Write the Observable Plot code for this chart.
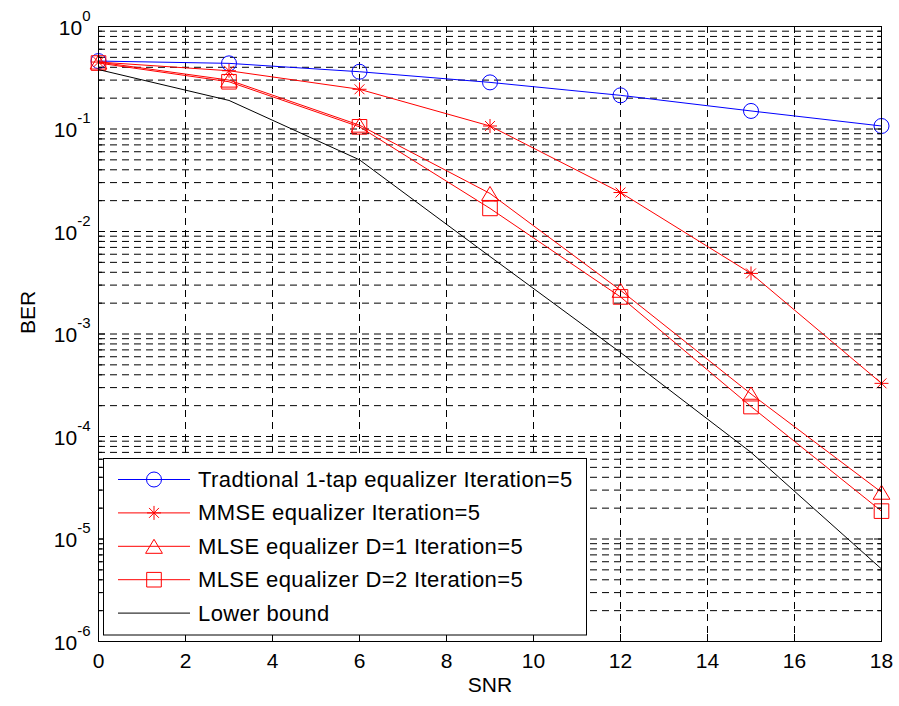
<!DOCTYPE html>
<html><head><meta charset="utf-8">
<script src="https://cdn.jsdelivr.net/npm/d3@7"></script>
<script src="https://cdn.jsdelivr.net/npm/@observablehq/plot@0.6"></script>
<style>
body{margin:0;background:#fff;}
#chart{position:relative;width:899px;height:706px;}
</style></head><body><div id="chart"></div>
<script>
// ---- data ----
const snr = [0, 3, 6, 9, 12, 15, 18];
const tradBER  = [0.46, 0.437, 0.362, 0.285, 0.213, 0.150, 0.107];
const mmseBER  = [0.45, 0.37, 0.244, 0.107, 0.024, 0.0039, 3.3e-4];
const mlse1BER = [0.45, 0.30, 0.109, 0.0235, 0.00267, 2.6e-4, 2.86e-5];
const mlse2BER = [0.44, 0.289, 0.105, 0.0168, 0.0023, 1.96e-4, 1.87e-5];
const lowerBER = [0.38, 0.19, 0.050, 0.0057, 6.6e-4, 7.0e-5, 5.1e-6];
const seriesNames = [
  "Tradtional 1-tap equalizer Iteration=5",
  "MMSE equalizer Iteration=5",
  "MLSE equalizer D=1 Iteration=5",
  "MLSE equalizer D=2 Iteration=5",
  "Lower bound"
];
const xTicks = [0, 2, 4, 6, 8, 10, 12, 14, 16, 18];
const yDecades = [1e-6, 1e-5, 1e-4, 1e-3, 1e-2, 1e-1, 1];
const minorMultipliers = [2, 3, 4, 5, 6, 7, 8, 9];
const xLabel = "SNR";
const yLabel = "BER";

// ---- custom MATLAB-like symbols ----
const sym = {
  circle: {draw(ctx, size){const r=Math.sqrt(size/Math.PI); ctx.moveTo(r,0); ctx.arc(0,0,r,0,2*Math.PI);}},
  asterisk: {draw(ctx, size){const r=Math.sqrt(size/Math.PI); const d=r*Math.SQRT1_2;
    ctx.moveTo(-r,0);ctx.lineTo(r,0);ctx.moveTo(0,-r);ctx.lineTo(0,r);
    ctx.moveTo(-d,-d);ctx.lineTo(d,d);ctx.moveTo(-d,d);ctx.lineTo(d,-d);}},
  triangle: {draw(ctx, size){const r=Math.sqrt(size/Math.PI); const w=r*1.2;
    ctx.moveTo(0,-r);ctx.lineTo(w,r);ctx.lineTo(-w,r);ctx.closePath();}},
  square: {draw(ctx, size){const r=Math.sqrt(size/Math.PI); ctx.rect(-r,-r,2*r,2*r);}}
};

const series = [
  {name: seriesNames[0], values: tradBER,  color: "#0000ff", symbol: sym.circle,   r: 7.5},
  {name: seriesNames[1], values: mmseBER,  color: "#ff0000", symbol: sym.asterisk, r: 7},
  {name: seriesNames[2], values: mlse1BER, color: "#ff0000", symbol: sym.triangle, r: 7},
  {name: seriesNames[3], values: mlse2BER, color: "#ff0000", symbol: sym.square,   r: 7.3},
  {name: seriesNames[4], values: lowerBER, color: "#000000", symbol: null,         r: 0}
];

const yMinor = [];
yDecades.slice(0, -1).forEach(d => minorMultipliers.forEach(m => yMinor.push(d * m)));
const yGrid = yDecades.slice(1, -1).concat(yMinor);

const W = 899, H = 706, ML = 98, MR = 18, MT = 26, MB = 65;
const FW = W - ML - MR, FH = H - MT - MB;
const dash = "7,5";
const FONT = "Arial, 'Liberation Sans', sans-serif";

const marks = [
  Plot.ruleX(xTicks.slice(1, -1), {x: d => d, stroke: "#000", strokeWidth: 1, strokeDasharray: dash}),
  Plot.ruleY(yGrid, {y: d => d, stroke: "#000", strokeWidth: 1, strokeDasharray: dash})
];
series.forEach(s => {
  const rows = s.values.map((v, i) => ({snr: snr[i], ber: v}));
  marks.push(Plot.line(rows, {x: "snr", y: "ber", stroke: s.color, strokeWidth: 1}));
  if (s.symbol) marks.push(Plot.dot(rows, {x: "snr", y: "ber", symbol: s.symbol, r: s.r, fill: "none", stroke: s.color, strokeWidth: 1}));
});
marks.push(
  Plot.frame({stroke: "#000", strokeWidth: 1}),
  // inward ticks
  Plot.tickX(xTicks, {x: d => d, insetTop: FH - 7, stroke: "#000"}),
  Plot.tickX(xTicks, {x: d => d, insetBottom: FH - 7, stroke: "#000"}),
  Plot.tickY(yDecades, {y: d => d, insetRight: FW - 7, stroke: "#000"}),
  Plot.tickY(yDecades, {y: d => d, insetLeft: FW - 7, stroke: "#000"}),
  Plot.tickY(yMinor, {y: d => d, insetRight: FW - 4, stroke: "#000"}),
  Plot.tickY(yMinor, {y: d => d, insetLeft: FW - 4, stroke: "#000"}),
  Plot.axisX(xTicks, {tickSize: 0, tickPadding: 12, fontSize: 21, tickFormat: d => String(d), label: null}),
  Plot.axisY(yDecades, {tickSize: 0, tickPadding: 8, dy: 1.5, fontSize: 21, tickFormat: d => String(Math.round(Math.log10(d))), label: null}),
  Plot.text([xLabel], {text: d => d, frameAnchor: "bottom", dy: 50, fontSize: 21, fill: "#000"}),
  Plot.text([yLabel], {text: d => d, frameAnchor: "left", dx: -70, rotate: -90, fontSize: 21, fill: "#000"})
);

const svg = Plot.plot({
  width: W, height: H,
  marginLeft: ML, marginRight: MR, marginTop: MT, marginBottom: MB,
  style: {fontFamily: FONT, fontSize: "21px", background: "white", color: "black"},
  x: {domain: [0, 18]},
  y: {type: "log", domain: [1e-6, 1]},
  marks
});
document.getElementById("chart").appendChild(svg);

// superscript exponents on y tick labels
d3.select(svg).selectAll('g[aria-label="y-axis tick label"] text').each(function() {
  const e = this.textContent;
  const t = d3.select(this);
  t.text("10");
  t.append("tspan").attr("dy", -14).attr("font-size", "15px").text(e);
});

// legend
const lg = d3.select(svg).append("g").attr("font-family", FONT).attr("text-anchor", "start");
lg.append("rect").attr("x", 103.5).attr("y", 458.5).attr("width", 483).attr("height", 176.5)
  .attr("fill", "white").attr("stroke", "#000").attr("stroke-width", 1);
series.forEach((s, i) => {
  const cy = 479.5 + i * 33.4;
  lg.append("line").attr("x1", 118).attr("x2", 190).attr("y1", cy).attr("y2", cy)
    .attr("stroke", s.color).attr("stroke-width", 1);
  if (s.symbol) {
    lg.append("path").attr("transform", `translate(154,${cy})`)
      .attr("d", d3.symbol(s.symbol, Math.PI * s.r * s.r)())
      .attr("fill", "none").attr("stroke", s.color).attr("stroke-width", 1);
  }
  lg.append("text").attr("x", 198).attr("y", cy + 7.5).attr("font-size", "22px")
    .attr("letter-spacing", "0.4px").attr("fill", "#000").attr("text-anchor", "start").text(s.name);
});
</script></body></html>
